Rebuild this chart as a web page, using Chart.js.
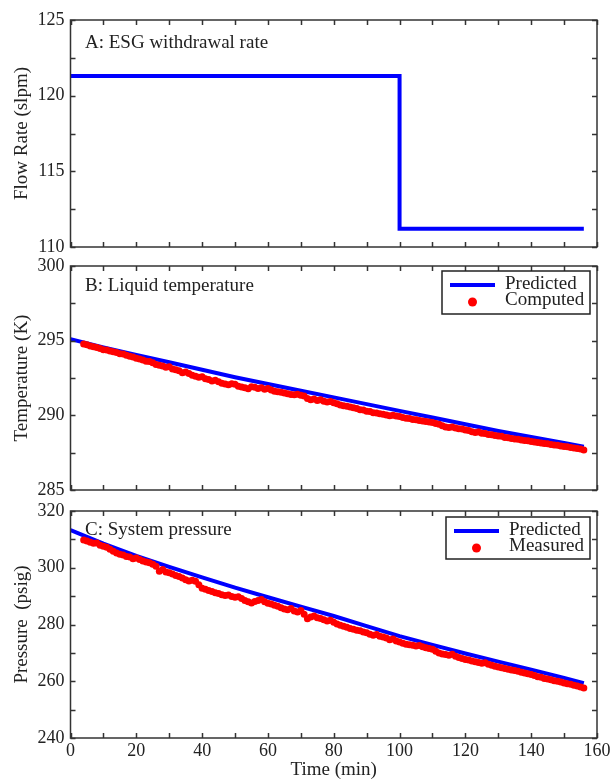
<!DOCTYPE html>
<html>
<head>
<meta charset="utf-8">
<script src="https://cdn.jsdelivr.net/npm/chart.js"></script>
<style>
  body { margin: 0; background: #fff; width: 613px; height: 782px; position: relative; overflow: hidden; }
  canvas { position: absolute; left: 0; }
</style>
</head>
<body>
<canvas id="chartA" width="613" height="258" style="top:0px"></canvas>
<canvas id="chartB" width="613" height="252" style="top:252px"></canvas>
<canvas id="chartC" width="613" height="284" style="top:498px"></canvas>
<script>
// Panel A: ESG withdrawal rate (step)
const flowTime = [0, 100, 100, 156];
const flowRate = [121.3, 121.3, 111.2, 111.2];

// Predicted curves, read every 10 min
const predTime = [0, 10, 20, 30, 40, 50, 60, 70, 80, 90, 100, 110, 120, 130, 140, 150, 156];
const tempPred = [295.1, 294.55, 294.05, 293.55, 293.05, 292.55, 292.1, 291.65, 291.2, 290.75,
                  290.3, 289.85, 289.4, 288.95, 288.55, 288.15, 287.9];
const pressPred = [313.3, 308.5, 304.2, 300.3, 296.6, 293.0, 289.6, 286.3, 283.0, 279.4,
                   275.9, 272.8, 269.8, 266.9, 264.1, 261.2, 259.3];

// Sample times of the computed / measured points (min)
const measTime = [4,
  5, 6, 7, 8, 9, 10, 11, 12, 13, 14,
  15, 16, 17, 18, 19, 20, 21, 22, 23, 24,
  25, 26, 27, 28, 29, 30, 31, 32, 33, 34,
  35, 36, 37, 38, 39, 40, 41, 42, 43, 44,
  45, 46, 47, 48, 49, 50, 51, 52, 53, 54,
  55, 56, 57, 58, 59, 60, 61, 62, 63, 64,
  65, 66, 67, 68, 69, 70, 71, 72, 73, 74,
  75, 76, 77, 78, 79, 80, 81, 82, 83, 84,
  85, 86, 87, 88, 89, 90, 91, 92, 93, 94,
  95, 96, 97, 98, 99, 100, 101, 102, 103, 104,
  105, 106, 107, 108, 109, 110, 111, 112, 113, 114,
  115, 116, 117, 118, 119, 120, 121, 122, 123, 124,
  125, 126, 127, 128, 129, 130, 131, 132, 133, 134,
  135, 136, 137, 138, 139, 140, 141, 142, 143, 144,
  145, 146, 147, 148, 149, 150, 151, 152, 153, 154,
  155, 156];

const tempMeas = [294.78,
  294.72, 294.65, 294.60, 294.55, 294.48, 294.40, 294.38, 294.30, 294.25, 294.20,
  294.12, 294.10, 294.02, 293.95, 293.90, 293.82, 293.78, 293.70, 293.62, 293.60,
  293.52, 293.40, 293.35, 293.30, 293.22, 293.25, 293.10, 293.05, 292.98, 292.85,
  292.90, 292.80, 292.68, 292.62, 292.55, 292.58, 292.45, 292.40, 292.30, 292.35,
  292.25, 292.15, 292.10, 292.05, 292.12, 292.08, 291.95, 291.90, 291.85, 291.78,
  291.92, 291.88, 291.80, 291.85, 291.75, 291.80, 291.70, 291.62, 291.58, 291.55,
  291.50, 291.45, 291.40, 291.38, 291.42, 291.35, 291.30, 291.12, 291.05, 291.10,
  291.00, 291.05, 290.95, 290.90, 290.92, 290.85, 290.78, 290.70, 290.65, 290.60,
  290.55, 290.50, 290.45, 290.38, 290.35, 290.28, 290.25, 290.18, 290.15, 290.10,
  290.08, 290.02, 289.98, 290.00, 289.95, 289.92, 289.85, 289.80, 289.78, 289.72,
  289.70, 289.65, 289.62, 289.58, 289.55, 289.52, 289.45, 289.40, 289.30, 289.22,
  289.18, 289.22, 289.15, 289.10, 289.08, 289.02, 288.98, 288.90, 288.85, 288.88,
  288.80, 288.78, 288.72, 288.70, 288.65, 288.62, 288.60, 288.52, 288.50, 288.45,
  288.42, 288.40, 288.35, 288.32, 288.30, 288.25, 288.22, 288.18, 288.15, 288.12,
  288.10, 288.05, 288.02, 288.00, 287.95, 287.92, 287.90, 287.85, 287.82, 287.78,
  287.75, 287.68];

const pressMeas = [309.8,
  309.4, 309.0, 308.6, 308.7, 307.9, 307.6, 307.2, 306.5, 305.8, 305.2,
  304.8, 304.5, 304.0, 303.8, 303.2, 303.4, 302.9, 302.4, 302.0, 301.8,
  301.2, 300.5, 298.8, 299.4, 298.5, 298.2, 297.8, 297.3, 296.9, 296.4,
  295.8, 295.3, 295.6, 295.2, 294.0, 292.8, 292.4, 292.0, 291.6, 291.2,
  290.9, 290.5, 290.2, 290.4, 289.9, 289.6, 289.8, 289.2, 288.5, 288.0,
  287.6, 288.1, 288.5, 288.8, 288.0, 287.5, 287.2, 286.8, 286.4, 285.9,
  285.5, 285.2, 285.6, 284.8, 284.4, 284.9, 283.6, 282.0, 282.6, 283.0,
  282.4, 282.1, 281.7, 281.2, 281.5, 280.8, 280.2, 279.7, 279.4, 279.0,
  278.6, 278.3, 278.0, 277.8, 277.4, 277.1, 276.6, 276.2, 276.5, 275.9,
  275.6, 275.2, 274.6, 274.9, 274.2, 273.8, 273.4, 273.0, 272.9, 272.7,
  272.4, 272.6, 272.2, 271.8, 271.5, 271.3, 270.6, 270.0, 269.6, 269.4,
  269.2, 269.5, 268.8, 268.4, 268.0, 267.7, 267.5, 267.1, 266.9, 266.6,
  266.3, 266.5, 266.0, 265.6, 265.3, 265.0, 264.8, 264.5, 264.2, 264.0,
  263.8, 263.5, 263.2, 262.9, 262.6, 262.4, 262.0, 261.6, 261.4, 261.0,
  260.8, 260.5, 260.2, 260.0, 259.7, 259.4, 259.1, 258.9, 258.6, 258.3,
  258.0, 257.6];

const BLUE = '#0000ff';
const RED = '#ff0000';
const INK = '#222';
const FONT = '"Liberation Serif", "Times New Roman", serif';

Chart.defaults.font.family = FONT;
Chart.defaults.color = INK;

function pairs(xs, ys) {
    return xs.map((x, i) => ({ x: x, y: ys[i] }));
}

// frame, inward ticks on all sides, panel label and in-plot legend
const decor = {
    id: 'decor',
    afterDraw(chart, args, opts) {
        const { ctx, chartArea: a } = chart;
        const xs = chart.scales.x, ys = chart.scales.y;
        ctx.save();
        ctx.strokeStyle = '#333';
        ctx.lineWidth = 1.5;
        ctx.beginPath();
        xs.ticks.forEach(t => {
            const px = Math.round(xs.getPixelForValue(t.value)) + 0.5;
            ctx.moveTo(px, a.bottom); ctx.lineTo(px, a.bottom - 5);
            ctx.moveTo(px, a.top); ctx.lineTo(px, a.top + 5);
        });
        ys.ticks.forEach(t => {
            const py = Math.round(ys.getPixelForValue(t.value)) + 0.5;
            ctx.moveTo(a.left, py); ctx.lineTo(a.left + 5, py);
            ctx.moveTo(a.right, py); ctx.lineTo(a.right - 5, py);
        });
        ctx.stroke();
        ctx.strokeRect(a.left, a.top, a.right - a.left, a.bottom - a.top);

        ctx.fillStyle = INK;
        ctx.font = '19px ' + FONT;
        ctx.textBaseline = 'middle';
        ctx.textAlign = 'left';
        ctx.fillText(opts.label, a.left + 14.5, a.top + opts.labelDy);

        if (opts.legend) {
            const L = opts.legend;
            const bx = a.right - L.right - L.w, by = a.top + L.top;
            ctx.lineWidth = 1.5;
            ctx.strokeStyle = '#222';
            ctx.strokeRect(bx, by, L.w, L.h);
            const ds = chart.data.datasets;
            const lineDs = ds.find(d => d.showLine);
            const ptDs = ds.find(d => !d.showLine);
            ctx.strokeStyle = BLUE;
            ctx.lineWidth = 4;
            ctx.beginPath();
            ctx.moveTo(bx + 8, by + 14);
            ctx.lineTo(bx + 53, by + 14);
            ctx.stroke();
            ctx.fillStyle = RED;
            ctx.beginPath();
            ctx.arc(bx + 30.5, by + 31, 4.5, 0, Math.PI * 2);
            ctx.fill();
            ctx.fillStyle = INK;
            ctx.fillText(lineDs.label, bx + 63, by + 13);
            ctx.fillText(ptDs.label, bx + 63, by + 29);
        }
        ctx.restore();
    }
};

function makeChart(id, cfg) {
    return new Chart(document.getElementById(id), {
        type: 'scatter',
        data: { datasets: cfg.datasets },
        options: {
            responsive: false,
            animation: false,
            devicePixelRatio: 1,
            layout: { padding: { top: cfg.padTop, bottom: cfg.padBottom, left: 0, right: 16 } },
            scales: {
                x: {
                    type: 'linear', min: 0, max: 160,
                    grid: { display: false, drawTicks: false },
                    border: { display: false },
                    ticks: {
                        display: cfg.xLabels, stepSize: 10, autoSkip: false, maxRotation: 0,
                        padding: 2, font: { size: 18 }, color: INK,
                        callback: v => (v % 20 === 0 ? v : '')
                    },
                    title: {
                        display: cfg.xLabels, text: 'Time (min)',
                        font: { size: 19 }, color: INK, padding: { top: 0, bottom: 1 }
                    },
                    afterFit: s => {
                        s.height = cfg.xLabels ? 44 : 0;
                        s.paddingLeft = 0; s.paddingRight = 0;
                    }
                },
                y: {
                    type: 'linear', min: cfg.yMin, max: cfg.yMax,
                    grid: { display: false, drawTicks: false },
                    border: { display: false },
                    ticks: {
                        stepSize: cfg.yStep, autoSkip: false, padding: 6,
                        font: { size: 18 }, color: INK,
                        callback: v => (v % cfg.yLabelEvery === 0 ? v : '')
                    },
                    title: {
                        display: true, text: cfg.yTitle,
                        font: { size: 19 }, color: INK, padding: { top: 11, bottom: 0 }
                    },
                    afterFit: s => {
                        s.width = 70.5;
                        s.paddingTop = 0; s.paddingBottom = 0;
                    }
                }
            },
            plugins: {
                legend: { display: false },
                tooltip: { enabled: false },
                decor: { label: cfg.label, labelDy: cfg.labelDy, legend: cfg.legend }
            }
        },
        plugins: [decor]
    });
}

makeChart('chartA', {
    padTop: 20, padBottom: 11, xLabels: false,
    yMin: 110, yMax: 125, yStep: 2.5, yLabelEvery: 5,
    yTitle: 'Flow Rate (slpm)',
    label: 'A: ESG withdrawal rate', labelDy: 23,
    datasets: [{
        label: 'ESG withdrawal rate',
        data: pairs(flowTime, flowRate),
        showLine: true, borderColor: BLUE, borderWidth: 4, pointRadius: 0
    }]
});

makeChart('chartB', {
    padTop: 14, padBottom: 14, xLabels: false,
    yMin: 285, yMax: 300, yStep: 2.5, yLabelEvery: 5,
    yTitle: 'Temperature (K)',
    label: 'B: Liquid temperature', labelDy: 20,
    legend: { right: 7, top: 5, w: 148, h: 43 },
    datasets: [{
        label: 'Computed',
        data: pairs(measTime, tempMeas),
        showLine: false, backgroundColor: RED, borderColor: RED, borderWidth: 0, pointRadius: 3.5
    }, {
        label: 'Predicted',
        data: pairs(predTime, tempPred),
        showLine: true, borderColor: BLUE, borderWidth: 4, pointRadius: 0
    }]
});

makeChart('chartC', {
    padTop: 13, padBottom: 0, xLabels: true,
    yMin: 240, yMax: 320, yStep: 10, yLabelEvery: 20,
    yTitle: 'Pressure  (psig)',
    label: 'C: System pressure', labelDy: 19,
    legend: { right: 7, top: 6, w: 144, h: 42 },
    datasets: [{
        label: 'Measured',
        data: pairs(measTime, pressMeas),
        showLine: false, backgroundColor: RED, borderColor: RED, borderWidth: 0, pointRadius: 3.5
    }, {
        label: 'Predicted',
        data: pairs(predTime, pressPred),
        showLine: true, borderColor: BLUE, borderWidth: 4, pointRadius: 0
    }]
});
</script>
</body>
</html>
